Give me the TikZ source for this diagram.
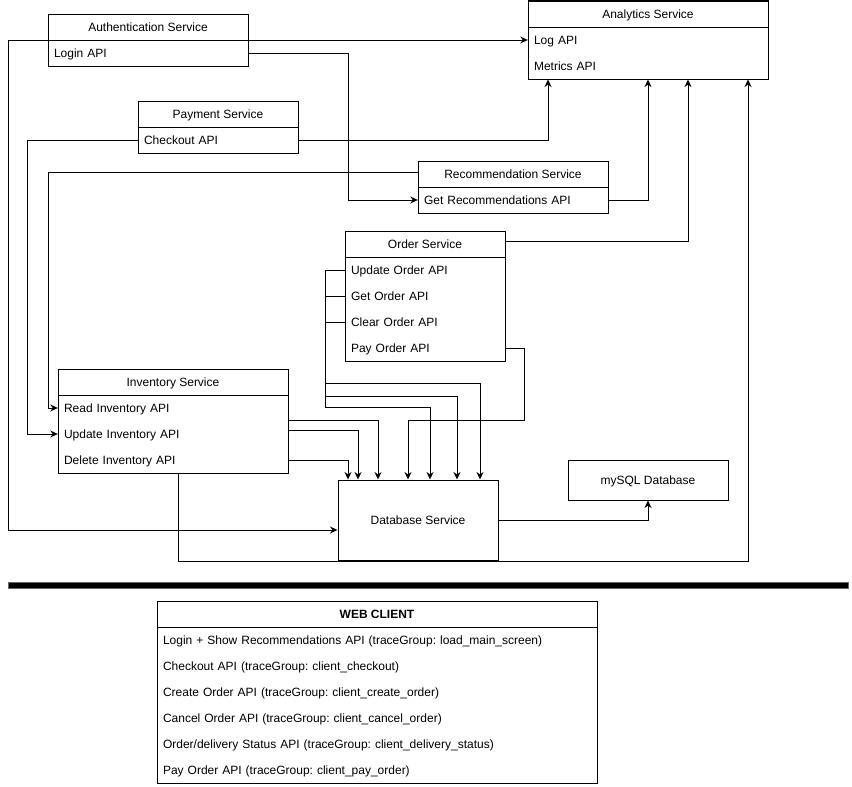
\documentclass[tikz,border=0pt]{standalone}
\usepackage{fontspec}
\setmainfont{Liberation Sans}
\usetikzlibrary{arrows.meta}
\frenchspacing
\begin{document}
\begin{tikzpicture}[x=1pt,y=-1pt,
  every node/.style={font=\fontsize{12pt}{14pt}\selectfont},
  box/.style={draw, line width=1pt, rectangle, inner sep=0pt, text height=11.5pt, text depth=2.5pt},
  hdr/.style={rectangle, minimum width=#1, minimum height=26pt, inner sep=0pt, text height=11.5pt, text depth=2.5pt},
  row/.style={rectangle, text width=#1, minimum height=26pt, inner xsep=6pt, inner ysep=0pt, align=left, text height=11.5pt, text depth=2.5pt},
  conn/.style={line width=1pt},
  arr/.style={conn, -{Stealth[length=7.5pt,width=7pt]}}
]
\useasboundingbox (0,0) rectangle (852,787);

% Authentication Service
\node[box, minimum width=200pt, minimum height=52pt] (auth) at (148,40) {};
\node[hdr=200pt] (authhdr) at (148,27) {Authentication Service};
\draw[conn] (authhdr.south west) -- (authhdr.south east);
\node[row=188pt] (login) at (148,53) {Login API};

% Analytics Service
\node[box, minimum width=240pt, minimum height=78pt] (ana) at (648,40) {};
\node[hdr=240pt] (anahdr) at (648,14) {Analytics Service};
\draw[conn] (anahdr.south west) -- (anahdr.south east);
\node[row=228pt] (log) at (648,40) {Log API};
\node[row=228pt] (metrics) at (648,66) {Metrics API};

% Payment Service
\node[box, minimum width=160pt, minimum height=52pt] (pay) at (218,127) {};
\node[hdr=160pt] (payhdr) at (218,114) {Payment Service};
\draw[conn] (payhdr.south west) -- (payhdr.south east);
\node[row=148pt] (checkout) at (218,140) {Checkout API};

% Recommendation Service
\node[box, minimum width=190pt, minimum height=52pt] (rec) at (513,187) {};
\node[hdr=190pt] (rechdr) at (513,174) {Recommendation Service};
\draw[conn] (rechdr.south west) -- (rechdr.south east);
\node[row=178pt] (getrec) at (513,200) {Get Recommendations API};

% Order Service
\node[box, minimum width=160pt, minimum height=130pt] (ord) at (425,296) {};
\node[hdr=160pt] (ordhdr) at (425,244) {Order Service};
\draw[conn] (ordhdr.south west) -- (ordhdr.south east);
\node[row=148pt] (updord) at (425,270) {Update Order API};
\node[row=148pt] (getord) at (425,296) {Get Order API};
\node[row=148pt] (clrord) at (425,322) {Clear Order API};
\node[row=148pt] (payord) at (425,348) {Pay Order API};

% Inventory Service
\node[box, minimum width=230pt, minimum height=104pt] (inv) at (173,421) {};
\node[hdr=230pt] (invhdr) at (173,382) {Inventory Service};
\draw[conn] (invhdr.south west) -- (invhdr.south east);
\node[row=218pt] (readinv) at (173,408) {Read Inventory API};
\node[row=218pt] (updinv) at (173,434) {Update Inventory API};
\node[row=218pt] (delinv) at (173,460) {Delete Inventory API};

% Database Service
\node[box, minimum width=160pt, minimum height=80pt] (db) at (418,520) {Database Service};

% mySQL Database
\node[box, minimum width=160pt, minimum height=40pt] (mysql) at (648,480) {mySQL Database};

% Separator bar
\path[draw=black!60, fill=black, line width=1pt] (8,582) rectangle (848,588);

% Web client
\node[box, minimum width=440pt, minimum height=182pt] (web) at (377,692) {};
\node[hdr=440pt, font=\fontsize{12pt}{14pt}\selectfont\bfseries] (webhdr) at (377,614) {WEB CLIENT};
\draw[conn] (webhdr.south west) -- (webhdr.south east);
\node[row=428pt] (w1) at (377,640) {Login + Show Recommendations API (traceGroup: load\_main\_screen)};
\node[row=428pt] (w2) at (377,666) {Checkout API (traceGroup: client\_checkout)};
\node[row=428pt] (w3) at (377,692) {Create Order API (traceGroup: client\_create\_order)};
\node[row=428pt] (w4) at (377,718) {Cancel Order API (traceGroup: client\_cancel\_order)};
\node[row=428pt] (w5) at (377,744) {Order/delivery Status API (traceGroup: client\_delivery\_status)};
\node[row=428pt] (w6) at (377,770) {Pay Order API (traceGroup: client\_pay\_order)};

% Connectors
\draw[arr] (auth.west) -| (8,530) -- (db.west |- 8,530);
\draw[arr] (auth.east) -- (log.west);
\draw[arr] (login.east) -| (348,200) -- (getrec.west);
\draw[arr] (checkout.east) -| (ana.south -| 548,0);
\draw[arr] (checkout.west) -| (27,434) -- (updinv.west);
\draw[arr] (rechdr.west |- 0,172) -| (48,408) -- (readinv.west);
\draw[arr] (getrec.east) -| (ana.south -| 648,0);
\draw[arr] (ordhdr.east |- 0,241) -| (ana.south -| 688,0);
\draw[arr] (inv.south -| 178,0) -- (178,561) -| (ana.south -| 748,0);
\draw[arr] (delinv.east) -| (db.north -| 348,0);
\draw[arr] (inv.east |- 0,430) -| (db.north -| 358,0);
\draw[arr] (inv.east |- 0,420) -| (db.north -| 378,0);
\draw[arr] (payord.east) -| (524,420) -| (db.north -| 408,0);
\draw[arr] (updord.west) -| (325,383) -| (db.north -| 480,0);
\draw[arr] (getord.west) -| (325,396) -| (db.north -| 457,0);
\draw[arr] (clrord.west) -| (325,407) -| (db.north -| 430,0);
\draw[arr] (db.east) -| (mysql.south);
\end{tikzpicture}
\end{document}
